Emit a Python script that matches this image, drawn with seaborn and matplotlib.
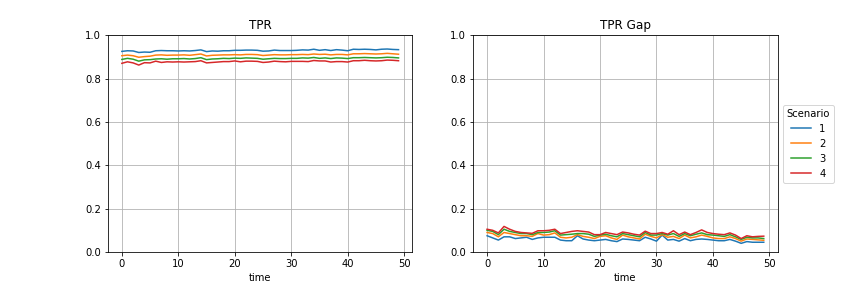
import numpy as np
import pandas as pd
import matplotlib
matplotlib.use("Agg")
import matplotlib.pyplot as plt
import seaborn as sns

time = list(range(50))
scenarios = ["1", "2", "3", "4"]

tpr_1 = [0.925, 0.928, 0.927, 0.920, 0.922, 0.921, 0.928, 0.929, 0.928, 0.928,
         0.927, 0.928, 0.927, 0.929, 0.932, 0.924, 0.927, 0.926, 0.928, 0.928,
         0.930, 0.930, 0.931, 0.931, 0.930, 0.926, 0.927, 0.931, 0.929, 0.929,
         0.929, 0.930, 0.932, 0.931, 0.935, 0.930, 0.933, 0.929, 0.933, 0.931,
         0.928, 0.935, 0.934, 0.935, 0.934, 0.932, 0.935, 0.936, 0.934, 0.933]
tpr_2 = [0.905, 0.908, 0.905, 0.898, 0.901, 0.903, 0.908, 0.909, 0.907, 0.908,
         0.908, 0.909, 0.907, 0.910, 0.913, 0.904, 0.907, 0.908, 0.909, 0.909,
         0.910, 0.909, 0.911, 0.911, 0.910, 0.906, 0.908, 0.910, 0.909, 0.909,
         0.910, 0.910, 0.911, 0.910, 0.913, 0.911, 0.912, 0.909, 0.911, 0.911,
         0.909, 0.914, 0.914, 0.915, 0.914, 0.913, 0.914, 0.916, 0.914, 0.912]
tpr_3 = [0.888, 0.893, 0.889, 0.880, 0.886, 0.887, 0.890, 0.891, 0.889, 0.891,
         0.891, 0.892, 0.890, 0.892, 0.896, 0.887, 0.890, 0.891, 0.893, 0.892,
         0.894, 0.893, 0.895, 0.894, 0.893, 0.889, 0.891, 0.893, 0.892, 0.892,
         0.893, 0.893, 0.895, 0.894, 0.897, 0.893, 0.895, 0.892, 0.895, 0.894,
         0.892, 0.896, 0.896, 0.897, 0.896, 0.895, 0.896, 0.898, 0.897, 0.895]
tpr_4 = [0.870, 0.877, 0.872, 0.862, 0.873, 0.872, 0.880, 0.874, 0.877, 0.876,
         0.877, 0.876, 0.877, 0.878, 0.882, 0.872, 0.874, 0.876, 0.878, 0.878,
         0.881, 0.877, 0.880, 0.880, 0.879, 0.874, 0.876, 0.880, 0.878, 0.877,
         0.879, 0.879, 0.879, 0.878, 0.883, 0.881, 0.881, 0.876, 0.878, 0.878,
         0.876, 0.882, 0.882, 0.884, 0.882, 0.881, 0.882, 0.885, 0.884, 0.882]

gap_1 = [0.075, 0.065, 0.055, 0.070, 0.070, 0.062, 0.065, 0.068, 0.058, 0.065,
         0.068, 0.068, 0.068, 0.055, 0.052, 0.052, 0.075, 0.060, 0.055, 0.052,
         0.055, 0.058, 0.052, 0.048, 0.060, 0.058, 0.055, 0.052, 0.068, 0.060,
         0.050, 0.078, 0.055, 0.058, 0.050, 0.062, 0.052, 0.058, 0.060, 0.058,
         0.055, 0.052, 0.052, 0.058, 0.050, 0.040, 0.048, 0.045, 0.045, 0.045]
gap_2 = [0.090, 0.085, 0.070, 0.090, 0.085, 0.080, 0.075, 0.075, 0.072, 0.085,
         0.078, 0.080, 0.088, 0.068, 0.065, 0.068, 0.080, 0.072, 0.068, 0.062,
         0.072, 0.075, 0.065, 0.058, 0.078, 0.070, 0.065, 0.060, 0.082, 0.072,
         0.065, 0.080, 0.068, 0.072, 0.062, 0.078, 0.065, 0.070, 0.078, 0.072,
         0.065, 0.062, 0.062, 0.070, 0.062, 0.050, 0.060, 0.058, 0.056, 0.054]
gap_3 = [0.100, 0.095, 0.080, 0.105, 0.095, 0.090, 0.085, 0.085, 0.080, 0.090,
         0.090, 0.092, 0.098, 0.078, 0.080, 0.082, 0.085, 0.085, 0.082, 0.072,
         0.078, 0.082, 0.075, 0.070, 0.085, 0.080, 0.075, 0.070, 0.090, 0.078,
         0.078, 0.085, 0.078, 0.085, 0.072, 0.085, 0.075, 0.082, 0.088, 0.080,
         0.078, 0.075, 0.072, 0.080, 0.070, 0.058, 0.068, 0.065, 0.065, 0.062]
gap_4 = [0.105, 0.100, 0.088, 0.118, 0.105, 0.095, 0.090, 0.088, 0.086, 0.098,
         0.098, 0.100, 0.105, 0.085, 0.090, 0.095, 0.098, 0.095, 0.092, 0.080,
         0.080, 0.090, 0.085, 0.080, 0.092, 0.088, 0.082, 0.078, 0.096, 0.085,
         0.085, 0.090, 0.082, 0.098, 0.080, 0.092, 0.080, 0.090, 0.102, 0.090,
         0.085, 0.082, 0.080, 0.088, 0.078, 0.062, 0.075, 0.070, 0.072, 0.073]


def to_long(series_list):
    frames = []
    for s, vals in zip(scenarios, series_list):
        frames.append(pd.DataFrame({"time": time, "value": vals, "Scenario": s}))
    return pd.concat(frames, ignore_index=True)


tpr_df = to_long([tpr_1, tpr_2, tpr_3, tpr_4])
gap_df = to_long([gap_1, gap_2, gap_3, gap_4])

fig, axes = plt.subplots(1, 2, figsize=(12, 4), dpi=72)
fig.subplots_adjust(left=0.125, right=0.9, bottom=0.125, top=0.878, wspace=0.2)

palette = sns.color_palette("tab10", 4)

sns.lineplot(data=tpr_df, x="time", y="value", hue="Scenario", palette=palette,
             ax=axes[0], legend=False)
sns.lineplot(data=gap_df, x="time", y="value", hue="Scenario", palette=palette,
             ax=axes[1])

for ax, title in zip(axes, ["TPR", "TPR Gap"]):
    ax.set_title(title)
    ax.set_ylim(0, 1)
    ax.set_xlim(-2.45, 51.45)
    ax.set_ylabel("")
    ax.set_xlabel("time")
    ax.grid(True)

axes[1].legend(title="Scenario", loc="center left", bbox_to_anchor=(1.0, 0.5))

plt.savefig("out.png", dpi=72)
plt.close()
